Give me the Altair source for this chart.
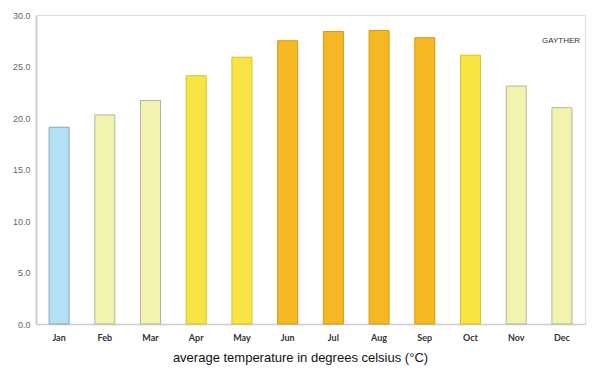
import altair as alt
import pandas as pd

months = ["Jan", "Feb", "Mar", "Apr", "May", "Jun", "Jul", "Aug", "Sep", "Oct", "Nov", "Dec"]
temps = [19.1, 20.3, 21.7, 24.1, 25.9, 27.5, 28.4, 28.5, 27.8, 26.1, 23.1, 21.0]
bands = ["cool", "mild", "mild", "warm", "warm", "hot", "hot", "hot", "hot", "warm", "mild", "mild"]

band_domain = ["cool", "mild", "warm", "hot"]
band_fill = ["#b3e0f2", "#f3f3b0", "#f8e443", "#f5b824"]
band_stroke = ["#8aa6b4", "#b8b49a", "#d8c030", "#d39a10"]

df = pd.DataFrame({"month": months, "temp": temps, "band": bands})

bars = alt.Chart(df).mark_bar(size=20, strokeWidth=1).encode(
    x=alt.X("month:N", sort=months,
            scale=alt.Scale(paddingInner=0.55, paddingOuter=0.28),
            axis=alt.Axis(title="average temperature in degrees celsius (°C)",
                          labelAngle=0, ticks=False, labelFont="Lato", labelFontWeight="bold",
                          labelFontSize=9, labelColor="#333", labelPadding=9,
                          titleFont="Liberation Sans", titleFontSize=13, titleFontWeight="normal",
                          titleColor="#111", titlePadding=9, titleX=264, titleAlign="center",
                          domainColor="#cccccc", domainWidth=1.5)),
    y=alt.Y("temp:Q", scale=alt.Scale(domain=[0, 30], nice=False),
            axis=alt.Axis(title=None, format=".1f", values=[0, 5, 10, 15, 20, 25, 30],
                          grid=False, ticks=False, labelFontSize=9, labelColor="#666",
                          labelFont="Liberation Sans", labelPadding=6,
                          domainColor="#cccccc", domainWidth=2)),
    fill=alt.Fill("band:N", scale=alt.Scale(domain=band_domain, range=band_fill), legend=None),
    stroke=alt.Stroke("band:N", scale=alt.Scale(domain=band_domain, range=band_stroke), legend=None),
)

logo = alt.Chart(pd.DataFrame({"t": ["GAYTHER"]})).mark_text(
    fontSize=8, font="Liberation Sans", color="#333"
).encode(x=alt.value(525), y=alt.value(26), text="t:N")

chart = alt.layer(bars, logo).properties(
    width=549, height=309,
    autosize="none",
    padding={"left": 36, "top": 15, "right": 15, "bottom": 51},
).configure_view(stroke=None).configure(background="white")

chart.save("out.html", embed_options={"renderer": "svg", "actions": False})
